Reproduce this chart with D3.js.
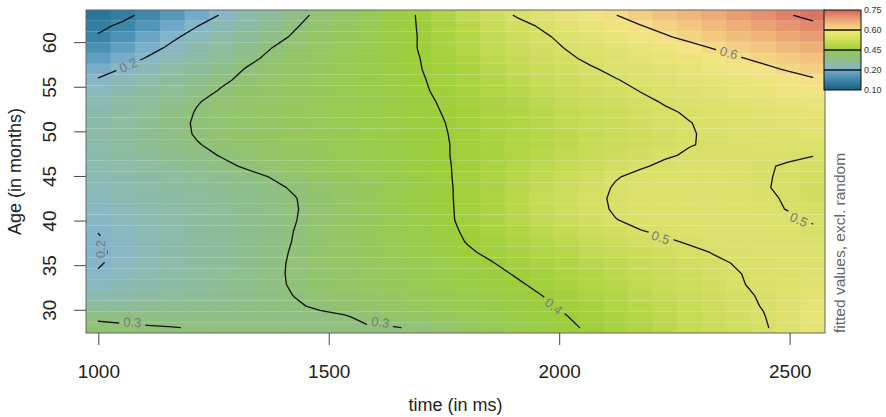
<!DOCTYPE html>
<html>
<head>
<meta charset="utf-8">
<script src="https://cdn.jsdelivr.net/npm/d3@7"></script>
<style>
body { margin: 0; background: #fff; }
text { font-family: "Liberation Sans", Arial, Helvetica, sans-serif; }
</style>
</head>
<body>
<svg id="chart" width="886" height="417"></svg>
<script>
// grid of the fitted surface (cell centres)
var timeGrid = [1000, 1053.4, 1106.9, 1160.3, 1213.8, 1267.2, 1320.7, 1374.1, 1427.6, 1481.0,
  1534.5, 1587.9, 1641.4, 1694.8, 1748.3, 1801.7, 1855.2, 1908.6, 1962.1, 2015.5,
  2069.0, 2122.4, 2175.9, 2229.3, 2282.8, 2336.2, 2389.7, 2443.1, 2496.6, 2550];
var ageGrid = [28.00, 29.21, 30.41, 31.62, 32.83, 34.03, 35.24, 36.45, 37.66, 38.86,
  40.07, 41.28, 42.48, 43.69, 44.90, 46.10, 47.31, 48.52, 49.72, 50.93,
  52.14, 53.34, 54.55, 55.76, 56.97, 58.17, 59.38, 60.59, 61.79, 63.00];

// fitted values, one row per age (youngest first), one value per time step
var fitted = [
  [0.310,0.306,0.303,0.301,0.298,0.297,0.296,0.296,0.296,0.296,0.297,0.298,0.298,0.305,0.322,0.336,0.350,0.365,0.379,0.393,0.406,0.419,0.431,0.444,0.457,0.469,0.482,0.495,0.518,0.550],
  [0.293,0.291,0.289,0.288,0.287,0.287,0.288,0.289,0.291,0.294,0.297,0.309,0.320,0.331,0.342,0.354,0.365,0.377,0.388,0.399,0.411,0.424,0.436,0.448,0.461,0.473,0.486,0.498,0.521,0.545],
  [0.260,0.265,0.269,0.274,0.279,0.283,0.288,0.293,0.297,0.304,0.314,0.324,0.334,0.344,0.354,0.364,0.374,0.384,0.394,0.405,0.417,0.429,0.441,0.453,0.465,0.477,0.489,0.502,0.521,0.540],
  [0.227,0.236,0.245,0.255,0.264,0.273,0.282,0.292,0.301,0.311,0.321,0.330,0.340,0.350,0.360,0.370,0.380,0.390,0.400,0.411,0.423,0.435,0.447,0.458,0.470,0.482,0.493,0.504,0.520,0.535],
  [0.212,0.223,0.235,0.247,0.258,0.270,0.282,0.293,0.304,0.314,0.324,0.335,0.345,0.355,0.365,0.375,0.386,0.396,0.407,0.418,0.429,0.440,0.452,0.463,0.474,0.485,0.497,0.508,0.519,0.530],
  [0.203,0.216,0.229,0.242,0.255,0.267,0.280,0.293,0.305,0.316,0.327,0.338,0.348,0.359,0.370,0.381,0.392,0.403,0.414,0.425,0.436,0.446,0.457,0.467,0.479,0.489,0.499,0.508,0.517,0.525],
  [0.197,0.210,0.224,0.238,0.251,0.265,0.278,0.292,0.305,0.317,0.328,0.340,0.352,0.364,0.376,0.388,0.399,0.411,0.421,0.432,0.442,0.452,0.463,0.473,0.484,0.494,0.503,0.508,0.514,0.520],
  [0.195,0.209,0.222,0.236,0.250,0.263,0.277,0.290,0.304,0.317,0.330,0.343,0.356,0.369,0.382,0.396,0.407,0.418,0.428,0.439,0.450,0.460,0.471,0.482,0.492,0.502,0.507,0.511,0.513,0.515],
  [0.197,0.210,0.223,0.236,0.250,0.263,0.276,0.289,0.302,0.316,0.330,0.344,0.358,0.373,0.387,0.402,0.413,0.425,0.437,0.449,0.460,0.472,0.484,0.495,0.504,0.510,0.514,0.516,0.515,0.510],
  [0.201,0.213,0.225,0.238,0.251,0.263,0.276,0.288,0.301,0.316,0.331,0.346,0.361,0.376,0.391,0.405,0.418,0.432,0.445,0.459,0.472,0.485,0.499,0.507,0.514,0.519,0.521,0.519,0.514,0.505],
  [0.205,0.217,0.229,0.240,0.252,0.264,0.276,0.288,0.299,0.315,0.330,0.346,0.362,0.377,0.393,0.408,0.423,0.439,0.454,0.469,0.484,0.499,0.508,0.515,0.520,0.523,0.523,0.518,0.510,0.497],
  [0.210,0.221,0.232,0.243,0.254,0.265,0.276,0.287,0.298,0.313,0.329,0.345,0.361,0.377,0.393,0.409,0.425,0.441,0.457,0.473,0.489,0.504,0.512,0.518,0.521,0.522,0.519,0.512,0.498,0.490],
  [0.215,0.225,0.236,0.246,0.257,0.267,0.278,0.289,0.299,0.314,0.330,0.346,0.362,0.377,0.393,0.410,0.426,0.443,0.459,0.475,0.491,0.505,0.512,0.517,0.520,0.519,0.515,0.507,0.496,0.485],
  [0.220,0.230,0.241,0.251,0.262,0.272,0.282,0.293,0.304,0.319,0.334,0.349,0.364,0.379,0.394,0.409,0.425,0.441,0.457,0.473,0.488,0.503,0.510,0.515,0.517,0.516,0.512,0.503,0.493,0.482],
  [0.225,0.236,0.247,0.257,0.268,0.279,0.290,0.301,0.315,0.328,0.341,0.355,0.368,0.382,0.395,0.409,0.424,0.439,0.453,0.468,0.483,0.498,0.507,0.512,0.514,0.513,0.510,0.503,0.495,0.485],
  [0.230,0.242,0.255,0.267,0.280,0.292,0.304,0.316,0.327,0.339,0.350,0.362,0.373,0.385,0.396,0.408,0.421,0.434,0.446,0.459,0.471,0.484,0.497,0.505,0.509,0.510,0.508,0.503,0.497,0.490],
  [0.235,0.249,0.262,0.276,0.290,0.302,0.313,0.323,0.334,0.344,0.355,0.365,0.376,0.386,0.397,0.408,0.419,0.430,0.441,0.452,0.463,0.474,0.486,0.497,0.503,0.506,0.508,0.507,0.505,0.501],
  [0.240,0.254,0.269,0.284,0.298,0.309,0.319,0.328,0.338,0.348,0.358,0.368,0.378,0.388,0.397,0.408,0.418,0.428,0.438,0.448,0.458,0.468,0.478,0.488,0.499,0.503,0.506,0.509,0.512,0.515],
  [0.240,0.256,0.272,0.288,0.303,0.312,0.322,0.331,0.341,0.351,0.360,0.370,0.379,0.389,0.398,0.408,0.418,0.428,0.438,0.448,0.458,0.468,0.478,0.488,0.498,0.505,0.511,0.517,0.524,0.530],
  [0.237,0.254,0.272,0.289,0.304,0.313,0.323,0.332,0.342,0.352,0.361,0.371,0.380,0.390,0.399,0.410,0.420,0.430,0.440,0.451,0.461,0.470,0.480,0.490,0.499,0.508,0.516,0.524,0.532,0.540],
  [0.232,0.250,0.268,0.286,0.302,0.312,0.322,0.332,0.342,0.352,0.361,0.371,0.381,0.391,0.401,0.412,0.422,0.432,0.443,0.453,0.463,0.474,0.484,0.495,0.504,0.513,0.523,0.532,0.541,0.550],
  [0.225,0.243,0.261,0.280,0.298,0.309,0.320,0.330,0.341,0.351,0.361,0.372,0.382,0.393,0.403,0.414,0.425,0.436,0.447,0.459,0.470,0.481,0.492,0.503,0.513,0.523,0.534,0.544,0.555,0.565],
  [0.215,0.233,0.251,0.268,0.286,0.303,0.314,0.326,0.337,0.349,0.360,0.372,0.383,0.395,0.406,0.418,0.430,0.442,0.454,0.466,0.478,0.489,0.501,0.512,0.524,0.535,0.546,0.557,0.569,0.580],
  [0.205,0.223,0.241,0.259,0.276,0.294,0.308,0.321,0.334,0.346,0.358,0.371,0.384,0.396,0.409,0.422,0.435,0.447,0.460,0.473,0.485,0.498,0.510,0.521,0.533,0.545,0.557,0.570,0.583,0.595],
  [0.180,0.203,0.223,0.243,0.263,0.282,0.302,0.315,0.329,0.343,0.356,0.370,0.384,0.398,0.412,0.426,0.440,0.454,0.468,0.482,0.496,0.509,0.523,0.536,0.550,0.564,0.577,0.591,0.604,0.615],
  [0.155,0.179,0.204,0.225,0.247,0.268,0.290,0.308,0.324,0.339,0.354,0.369,0.384,0.399,0.415,0.430,0.446,0.462,0.477,0.493,0.508,0.523,0.538,0.552,0.567,0.582,0.597,0.609,0.619,0.630],
  [0.130,0.157,0.183,0.209,0.231,0.254,0.277,0.299,0.317,0.333,0.350,0.367,0.384,0.401,0.418,0.435,0.451,0.468,0.485,0.502,0.519,0.536,0.554,0.571,0.588,0.603,0.615,0.626,0.638,0.650],
  [0.105,0.134,0.163,0.192,0.217,0.239,0.262,0.285,0.306,0.325,0.344,0.363,0.382,0.401,0.419,0.438,0.456,0.474,0.492,0.512,0.533,0.554,0.575,0.596,0.610,0.622,0.634,0.646,0.658,0.670],
  [0.090,0.109,0.139,0.169,0.199,0.224,0.248,0.273,0.297,0.318,0.339,0.360,0.381,0.402,0.422,0.443,0.463,0.484,0.505,0.529,0.552,0.575,0.598,0.612,0.625,0.638,0.651,0.664,0.677,0.690],
  [0.070,0.089,0.113,0.143,0.174,0.204,0.231,0.258,0.286,0.311,0.334,0.357,0.380,0.403,0.428,0.454,0.478,0.504,0.528,0.552,0.576,0.599,0.614,0.628,0.642,0.655,0.669,0.683,0.697,0.710]
];

var xTicks = [1000, 1500, 2000, 2500];
var yTicks = [30, 35, 40, 45, 50, 55, 60];
var contourLevels = [0.1, 0.2, 0.3, 0.4, 0.5, 0.6, 0.7];
var legendLabels = [0.75, 0.60, 0.45, 0.20, 0.10];

// where R put the inline contour labels (time, age, text angle)
var contourLabels = [
  { level: 0.2, time: 1065, age: 57.4, angle: -25 },
  { level: 0.2, time: 1004, age: 36.8, angle: -90 },
  { level: 0.3, time: 1074, age: 28.6, angle: 2 },
  { level: 0.3, time: 1612, age: 28.6, angle: 8 },
  { level: 0.4, time: 1988, age: 30.4, angle: 38 },
  { level: 0.5, time: 2220, age: 38.1, angle: 18 },
  { level: 0.5, time: 2520, age: 40.1, angle: 25 },
  { level: 0.6, time: 2368, age: 58.8, angle: 15 }
];

// colour ramp of the surface
var colorValues = [0.07, 0.10, 0.13, 0.16, 0.19, 0.21, 0.23, 0.26, 0.29, 0.32, 0.36, 0.40, 0.43, 0.46, 0.50, 0.55, 0.59, 0.62, 0.65, 0.68, 0.71, 0.75];
var colorHex = ['#28779a', '#3683a6', '#4a91b3', '#65a2c3', '#82b3cf', '#89b8c2', '#8bbaae', '#8dbc9c', '#8fbf84', '#92c46a', '#97ca52',
  '#9dce3a', '#b0d445', '#c6db56', '#d8e068', '#e6e375', '#f4e487', '#f2cb80', '#eeb076', '#e69370', '#dd7462', '#d6605a'];
// legend bar, top segment first (top, middle, bottom colour)
var legendColors = [
  ['#d7625a', '#eea677', '#f8e08c'],
  ['#f3e97e', '#d0df55', '#a0ce3a'],
  ['#93c74f', '#8fbf88', '#86b6cd'],
  ['#74a9cb', '#3f86ad', '#165b80']
];

var svg = d3.select('#chart');
var plotL = 86, plotR = 825, plotT = 10, plotB = 333;

var tStep = (timeGrid[timeGrid.length - 1] - timeGrid[0]) / (timeGrid.length - 1);
var aStep = (ageGrid[ageGrid.length - 1] - ageGrid[0]) / (ageGrid.length - 1);

var x = d3.scaleLinear()
  .domain([timeGrid[0] - tStep / 2, timeGrid[timeGrid.length - 1] + tStep / 2])
  .range([plotL, plotR]);
var y = d3.scaleLinear()
  .domain([ageGrid[0] - aStep / 2, ageGrid[ageGrid.length - 1] + aStep / 2])
  .range([plotB, plotT]);
var fill = d3.scaleLinear().domain(colorValues).range(colorHex).clamp(true);

// heat map cells
var cells = [];
fitted.forEach(function(row, j) {
  row.forEach(function(v, i) {
    cells.push({ t: timeGrid[i], a: ageGrid[j], v: v, last: i === row.length - 1 });
  });
});
var cw = x(timeGrid[1]) - x(timeGrid[0]);
var ch = y(ageGrid[0]) - y(ageGrid[1]);

// cells overlap a little sideways so only the row seams show, as in the raster
svg.append('g')
  .selectAll('rect')
  .data(cells)
  .join('rect')
    .attr('x', function(d) { return x(d.t) - cw / 2; })
    .attr('y', function(d) { return y(d.a) - ch / 2; })
    .attr('width', function(d) { return d.last ? cw : cw + 0.7; })
    .attr('height', ch)
    .attr('fill', function(d) { return fill(d.v); });

// marching squares -> open contour lines
function edgePoint(level, va, vb, ta, aa, tb, ab) {
  if ((va >= level) === (vb >= level)) return null;
  var f = (level - va) / (vb - va);
  return [x(ta + f * (tb - ta)), y(aa + f * (ab - aa))];
}

function contourSegments(level) {
  var segs = [];
  for (var j = 0; j < ageGrid.length - 1; j++) {
    for (var i = 0; i < timeGrid.length - 1; i++) {
      var v00 = fitted[j][i], v10 = fitted[j][i + 1];
      var v01 = fitted[j + 1][i], v11 = fitted[j + 1][i + 1];
      var t0 = timeGrid[i], t1 = timeGrid[i + 1], a0 = ageGrid[j], a1 = ageGrid[j + 1];
      var bottom = edgePoint(level, v00, v10, t0, a0, t1, a0);
      var right = edgePoint(level, v10, v11, t1, a0, t1, a1);
      var top = edgePoint(level, v11, v01, t1, a1, t0, a1);
      var left = edgePoint(level, v01, v00, t0, a1, t0, a0);
      var pts = [bottom, right, top, left].filter(function(p) { return p; });
      if (pts.length === 2) {
        segs.push(pts);
      } else if (pts.length === 4) {
        var centre = (v00 + v10 + v01 + v11) / 4;
        if ((centre >= level) === (v00 >= level)) {
          segs.push([bottom, right], [top, left]);
        } else {
          segs.push([left, bottom], [right, top]);
        }
      }
    }
  }
  return segs;
}

function chain(segs) {
  var key = function(p) { return p[0].toFixed(2) + ',' + p[1].toFixed(2); };
  var ends = new Map();
  segs.forEach(function(s, k) {
    [0, 1].forEach(function(e) {
      var kk = key(s[e]);
      if (!ends.has(kk)) ends.set(kk, []);
      ends.get(kk).push(k);
    });
  });
  var used = segs.map(function() { return false; });
  var lines = [];
  segs.forEach(function(s, k) {
    if (used[k]) return;
    used[k] = true;
    var line = [s[0], s[1]];
    [true, false].forEach(function(atEnd) {
      while (true) {
        var p = atEnd ? line[line.length - 1] : line[0];
        var next = (ends.get(key(p)) || []).find(function(n) { return !used[n]; });
        if (next === undefined) break;
        used[next] = true;
        var s2 = segs[next];
        var q = key(s2[0]) === key(p) ? s2[1] : s2[0];
        if (atEnd) line.push(q); else line.unshift(q);
      }
    });
    lines.push(line);
  });
  return lines;
}

// mask to break the lines under the labels
var mask = svg.append('defs').append('mask')
  .attr('id', 'gaps')
  .attr('maskUnits', 'userSpaceOnUse')
  .attr('x', 0).attr('y', 0).attr('width', 886).attr('height', 417);
mask.append('rect').attr('width', 886).attr('height', 417).attr('fill', '#fff');

var lineGen = d3.line();
var contourG = svg.append('g').attr('mask', 'url(#gaps)');
contourLevels.forEach(function(level) {
  chain(contourSegments(level)).forEach(function(line) {
    contourG.append('path')
      .attr('d', lineGen(line))
      .attr('fill', 'none')
      .attr('stroke', '#111')
      .attr('stroke-width', 1.3)
      .attr('stroke-linejoin', 'round')
      .attr('stroke-linecap', 'round');
  });
});

var labelG = svg.append('g');
contourLabels.forEach(function(d) {
  var tr = 'translate(' + x(d.time) + ',' + y(d.age) + ') rotate(' + d.angle + ')';
  var txt = labelG.append('text')
    .attr('transform', tr)
    .attr('text-anchor', 'middle')
    .attr('dy', '0.35em')
    .attr('font-size', 13)
    .attr('fill', '#7a7a7a')
    .text(d3.format('.1f')(d.level));
  var w = txt.node().getComputedTextLength() + 8;
  mask.append('rect')
    .attr('transform', tr)
    .attr('x', -w / 2).attr('y', -7)
    .attr('width', w).attr('height', 14)
    .attr('fill', '#000');
});

// plot box
svg.append('rect')
  .attr('x', plotL).attr('y', plotT)
  .attr('width', plotR - plotL).attr('height', plotB - plotT)
  .attr('fill', 'none').attr('stroke', '#666').attr('stroke-width', 1);

// axes
var xAxis = svg.append('g')
  .attr('transform', 'translate(0,' + plotB + ')')
  .call(d3.axisBottom(x).tickValues(xTicks).tickSize(12).tickPadding(20).tickFormat(d3.format('d')));
xAxis.select('.domain').remove();
xAxis.selectAll('line').attr('stroke', '#444');
xAxis.selectAll('text').attr('font-size', 19).attr('fill', '#222')
  .style('font-family', '"Liberation Sans", Arial, sans-serif');

var yAxis = svg.append('g')
  .attr('transform', 'translate(' + plotL + ',0)')
  .call(d3.axisLeft(y).tickValues(yTicks).tickSize(12).tickFormat(d3.format('d')));
yAxis.select('.domain').remove();
yAxis.selectAll('line').attr('stroke', '#444');
yAxis.selectAll('text')
  .attr('x', 0).attr('y', -30.5).attr('dy', 0)
  .attr('text-anchor', 'middle')
  .attr('transform', 'rotate(-90)')
  .attr('font-size', 19).attr('fill', '#222')
  .style('font-family', '"Liberation Sans", Arial, sans-serif');

svg.append('text')
  .attr('x', (plotL + plotR) / 2).attr('y', 411)
  .attr('text-anchor', 'middle')
  .attr('font-size', 18).attr('fill', '#222')
  .text('time (in ms)');

svg.append('text')
  .attr('transform', 'translate(21,' + (plotT + plotB) / 2 + ') rotate(-90)')
  .attr('text-anchor', 'middle')
  .attr('font-size', 18).attr('fill', '#222')
  .text('Age (in months)');

svg.append('text')
  .attr('transform', 'translate(845,' + plotB + ') rotate(-90)')
  .attr('text-anchor', 'start')
  .attr('font-size', 15.5).attr('fill', '#666')
  .text('fitted values, excl. random');

// gradient legend
var legX = 824, legW = 37, legTop = 10, legBottom = 90;
var legY = d3.scalePoint().domain(legendLabels).range([legTop, legBottom]);
var defs = svg.select('defs');
legendColors.forEach(function(cols, k) {
  var grad = defs.append('linearGradient')
    .attr('id', 'leg' + k)
    .attr('x1', 0).attr('y1', 0).attr('x2', 0).attr('y2', 1);
  cols.forEach(function(c, n) {
    grad.append('stop').attr('offset', n / (cols.length - 1)).attr('stop-color', c);
  });
  var y0 = legY(legendLabels[k]), y1 = legY(legendLabels[k + 1]);
  svg.append('rect')
    .attr('x', legX).attr('y', y0)
    .attr('width', legW).attr('height', y1 - y0)
    .attr('fill', 'url(#leg' + k + ')');
});
svg.append('g').selectAll('line')
  .data(legendLabels.slice(1, -1))
  .join('line')
    .attr('x1', legX).attr('x2', legX + legW)
    .attr('y1', function(d) { return legY(d); })
    .attr('y2', function(d) { return legY(d); })
    .attr('stroke', '#111').attr('stroke-width', 1.3);
svg.append('rect')
  .attr('x', legX).attr('y', legTop)
  .attr('width', legW).attr('height', legBottom - legTop)
  .attr('fill', 'none').attr('stroke', '#111').attr('stroke-width', 1);
svg.append('g').selectAll('text')
  .data(legendLabels)
  .join('text')
    .attr('x', legX + legW + 3)
    .attr('y', function(d) { return legY(d); })
    .attr('dy', '0.35em')
    .attr('font-size', 9).attr('fill', '#333')
    .text(d3.format('.2f'));
</script>
</body>
</html>
